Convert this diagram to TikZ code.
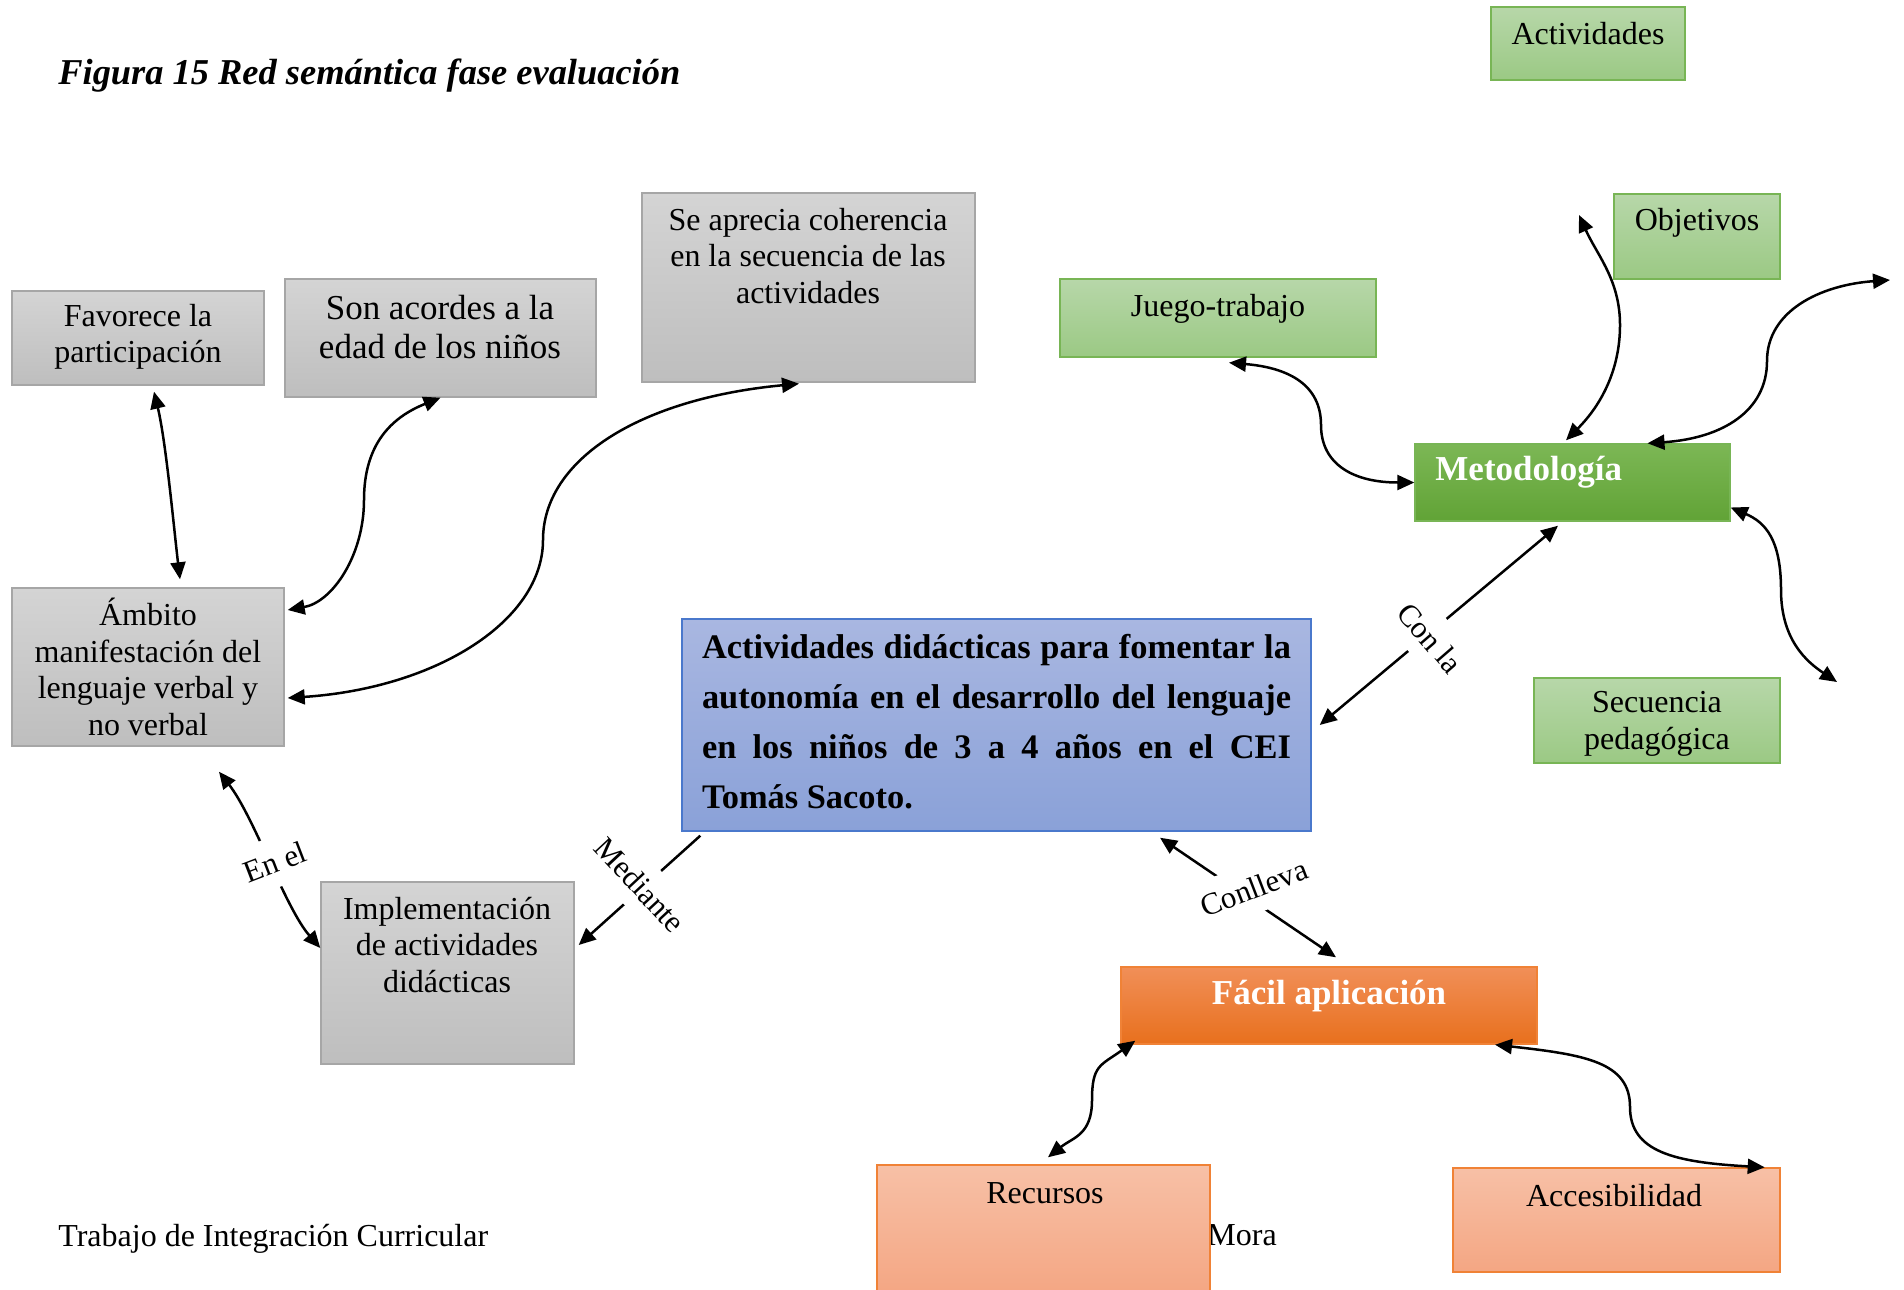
\documentclass[tikz,border=0pt]{standalone}
\usepackage{fontspec}
\setmainfont{Liberation Serif}
\usetikzlibrary{arrows.meta,calc}
\definecolor{graytop}{HTML}{D4D4D4}
\definecolor{graybot}{HTML}{BEBEBE}
\definecolor{grayline}{HTML}{A6A6A6}
\definecolor{greentop}{HTML}{B7D7A9}
\definecolor{greenbot}{HTML}{9BC984}
\definecolor{greenline}{HTML}{78B555}
\definecolor{mettop}{HTML}{7CB755}
\definecolor{metbot}{HTML}{61A336}
\definecolor{bluetop}{HTML}{A9B7E1}
\definecolor{bluebot}{HTML}{8AA1D8}
\definecolor{blueline}{HTML}{4A78CC}
\definecolor{factop}{HTML}{F18F58}
\definecolor{facbot}{HTML}{E8701D}
\definecolor{orline}{HTML}{F08236}
\definecolor{lortop}{HTML}{F7C0A6}
\definecolor{lorbot}{HTML}{F4A683}
\tikzset{
  box/.style={rectangle, inner sep=0pt, line width=0.7pt},
  graybox/.style={box, draw=grayline, top color=graytop, bottom color=graybot},
  greenbox/.style={box, draw=greenline, top color=greentop, bottom color=greenbot},
  metbox/.style={box, draw=greenline, top color=mettop, bottom color=metbot},
  bluebox/.style={box, draw=blueline, top color=bluetop, bottom color=bluebot},
  facbox/.style={box, draw=orline, top color=factop, bottom color=facbot},
  lorbox/.style={box, draw=orline, top color=lortop, bottom color=lorbot},
  txt/.style={align=center, inner sep=0pt, font=\fontsize{16}{18.2}\selectfont},
  boldwhite/.style={inner sep=0pt, text=white, font=\fontsize{17.5}{20}\selectfont\bfseries},
  arrowtip/.tip={Triangle[length=8.5pt,width=7.5pt]},
  conn/.style={line width=1.25pt, -arrowtip},
  dconn/.style={line width=1.25pt, arrowtip-arrowtip},
  lab/.style={fill=white, inner xsep=1pt, inner ysep=7pt, font=\fontsize{15.5}{18}\selectfont},
}
\begin{document}
\begin{tikzpicture}[x=0.5pt,y=-0.5pt]
\useasboundingbox (0,0) rectangle (1904,1289);
\clip (0,0) rectangle (1904,1289);
\fill[white] (0,0) rectangle (1904,1289);

% title and footer
\node[anchor=base west, inner sep=0pt, font=\fontsize{18.2}{20}\selectfont\bfseries\itshape] (title) at (58,85) {Figura 15 Red semántica fase evaluación};
\node[anchor=base west, inner sep=0pt, font=\fontsize{16}{18}\selectfont] (foot) at (58,1246) {Trabajo de Integración Curricular};
\node[anchor=base west, inner sep=0pt, font=\fontsize{16}{18}\selectfont] (mora) at (1207,1245) {Mora};

% gray boxes
\node[graybox, minimum width=126pt, minimum height=47pt] (fav) at (138,338) {};
\node[txt] (favt) at (138,337) {Favorece la\\participación};
\node[graybox, minimum width=155.5pt, minimum height=59pt] (son) at (440.5,338) {};
\node[txt, font=\fontsize{17.5}{19.5}\selectfont] (sont) at (440,327) {Son acordes a la\\edad de los niños};
\node[graybox, minimum width=166.5pt, minimum height=94.5pt] (sea) at (808.5,287.5) {};
\node[txt] (seat) at (808,256) {Se aprecia coherencia\\en la secuencia de las\\actividades};
\node[graybox, minimum width=136pt, minimum height=79pt] (amb) at (148,667) {};
\node[txt] (ambt) at (148,667) {Ámbito\\manifestación del\\lenguaje verbal y\\no verbal};
\node[graybox, minimum width=126.5pt, minimum height=91pt] (imp) at (447.5,973) {};
\node[txt] (impt) at (447,945) {Implementación\\de actividades\\didácticas};

% green boxes
\node[greenbox, minimum width=97pt, minimum height=36.5pt] (act) at (1588,43.5) {};
\node[txt, anchor=base] (actt) at (1588,45) {Actividades};
\node[greenbox, minimum width=83pt, minimum height=42.5pt] (obj) at (1697,236.5) {};
\node[txt, anchor=base] (objt) at (1697,230) {Objetivos};
\node[greenbox, minimum width=158pt, minimum height=39pt] (jt) at (1218,318) {};
\node[txt, anchor=base] (jtt) at (1218,316) {Juego-trabajo};
\node[metbox, minimum width=157.5pt, minimum height=38.5pt] (met) at (1572.5,482.5) {};
\node[boldwhite, anchor=base west] (mett) at (1435,480) {Metodología};
\node[greenbox, minimum width=123pt, minimum height=42.5pt] (sec) at (1657,720.5) {};
\node[txt] (sect) at (1657,724) {Secuencia\\pedagógica};

% central box
\node[bluebox, minimum width=314.5pt, minimum height=106pt] (cen) at (996.5,725) {};
\node[inner sep=0pt, text width=294.5pt, align=justify, font=\fontsize{17.2}{25}\selectfont\bfseries] (cent) at (996.5,722) {Actividades didácticas para fomentar la autonomía en el desarrollo del lenguaje en los niños de 3 a 4 años en el CEI\linebreak Tomás Sacoto.};

% orange boxes
\node[facbox, minimum width=208pt, minimum height=38.5pt] (fac) at (1329,1005.5) {};
\node[boldwhite, anchor=base] (fact) at (1329,1004) {Fácil aplicación};
\node[lorbox, minimum width=166.5pt, minimum height=65pt] (rec) at (1043.5,1230) {};
\node[txt, anchor=base] (rect) at (1045,1203) {Recursos};
\node[lorbox, minimum width=163.5pt, minimum height=52pt] (acc) at (1616.5,1220) {};
\node[txt, anchor=base] (acct) at (1614,1206) {Accesibilidad};

% free ends and bend points
\coordinate (m2) at (364,500);
\coordinate (m3) at (543,540);
\coordinate (m8) at (1321,425);
\coordinate (m9) at (1620,325);
\coordinate (f9) at (1579,215);
\coordinate (m10) at (1767,361);
\coordinate (f10) at (1890,280);
\coordinate (m11) at (1781,590);
\coordinate (f11) at (1837,682);
\coordinate (m12) at (1092,1100);
\coordinate (m13) at (1630,1107);

% curved connectors
\draw[dconn] ([xshift=8pt,yshift=-3pt]fav.south) .. controls +(12,50) and +(-6,-50) .. ([xshift=16pt,yshift=4pt]amb.north);
\draw[dconn] (son.south) .. controls +(-50,20) and +(0,-55) .. (m2) .. controls +(0,55) and +(45,-8) .. ([xshift=1.5pt,yshift=28.5pt]amb.east);
\draw[dconn] ([xshift=-4.75pt,yshift=-0.5pt]sea.south) .. controls +(-160,15) and +(0,-80) .. (m3) .. controls +(0,80) and +(150,-10) .. ([xshift=1.5pt,yshift=-15.5pt]amb.east);
\draw[dconn] ([xshift=5.5pt,yshift=-2.5pt]jt.south) .. controls +(60,5) and +(0,-40) .. (m8) .. controls +(0,40) and +(-60,0) .. (met.west);
\draw[dconn] ([xshift=-3.25pt,yshift=1.5pt]met.north) .. controls +(35,-35) and +(0,45) .. (m9) .. controls +(0,-45) and +(18,40) .. (f9);
\draw[dconn] ([xshift=37.5pt]met.north) .. controls +(75,-5) and +(0,50) .. (m10) .. controls +(0,-50) and +(-70,5) .. (f10);
\draw[dconn] ([yshift=-12.5pt]met.east) .. controls +(35,15) and +(0,-50) .. (m11) .. controls +(0,50) and +(-30,-20) .. (f11);
\draw[dconn] ([xshift=7.5pt,yshift=2pt]fac.south west) .. controls +(-35,25) and +(0,-35) .. (m12) .. controls +(0,35) and +(25,-20) .. ([xshift=2.25pt,yshift=3.5pt]rec.north);
\draw[dconn] ([xshift=83pt]fac.south) .. controls +(90,10) and +(0,-45) .. (m13) .. controls +(0,45) and +(-90,-5) .. ([xshift=-8pt]acc.north east);

% labelled connectors
\draw[dconn] ([xshift=35.5pt,yshift=-12.5pt]amb.south) .. controls +(35,45) and +(-35,-40) .. ([yshift=12.5pt]imp.west);
\node[lab, rotate=21] (enel) at (275,862) {En el};
\draw[conn] ([xshift=9.5pt,yshift=-2pt]cen.south west) -- ([xshift=2pt,yshift=14pt]imp.east);
\node[lab, rotate=-47] (med) at (640,885) {Mediante};
\draw[dconn] ([xshift=4pt]cen.east) -- ([xshift=-7.25pt,yshift=-2pt]met.south);
\node[lab, rotate=-49] (conla) at (1430,638) {Con la};
\draw[dconn] ([xshift=81.75pt,yshift=-3pt]cen.south) -- ([xshift=3.5pt,yshift=4.5pt]fac.north);
\node[lab, rotate=21] (conll) at (1254,888) {Conlleva};
\end{tikzpicture}
\end{document}
